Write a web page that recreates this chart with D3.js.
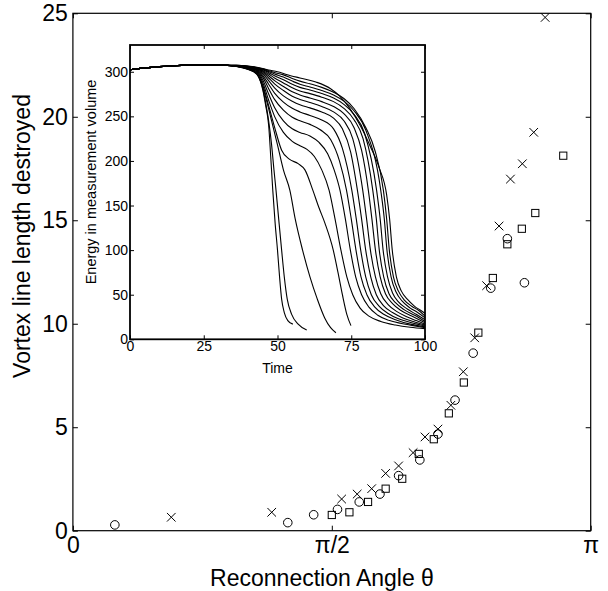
<!DOCTYPE html>
<html>
<head>
<meta charset="utf-8">
<script src="https://cdn.jsdelivr.net/npm/d3@7"></script>
<style>
  body { margin: 0; background: #fff; }
  svg { font-family: "Liberation Sans", Arial, sans-serif; }
  .tick line { stroke: #000; }
</style>
</head>
<body>
<script>
// main plot: reconnection angle (in units of pi) vs vortex line length destroyed
const circleTheta = [0.081, 0.415, 0.465, 0.511, 0.553, 0.593, 0.629, 0.670, 0.705, 0.738, 0.773, 0.807, 0.839, 0.872]
const circleLength = [0.28, 0.39, 0.77, 1.03, 1.39, 1.77, 2.66, 3.42, 4.67, 6.31, 8.58, 11.72, 14.11, 11.98]

const crossTheta = [0.190, 0.384, 0.519, 0.549, 0.577, 0.604, 0.629, 0.657, 0.680, 0.705, 0.730, 0.754, 0.776, 0.799, 0.823, 0.845, 0.868, 0.890, 0.912]
const crossLength = [0.65, 0.89, 1.53, 1.77, 2.03, 2.77, 3.13, 3.77, 4.53, 4.91, 6.06, 7.68, 9.32, 11.84, 14.72, 16.99, 17.73, 19.25, 24.8]

const squareTheta = [0.500, 0.534, 0.570, 0.604, 0.636, 0.668, 0.697, 0.726, 0.755, 0.783, 0.811, 0.839, 0.867, 0.893, 0.947]
const squareLength = [0.76, 0.89, 1.39, 2.03, 2.51, 3.71, 4.42, 5.67, 7.16, 9.57, 12.21, 13.84, 14.59, 15.35, 18.12]

const yTicks = [0, 5, 10, 15, 20, 25]
const xTicks = [0, 0.5, 1]
const xTickLabels = ["0", "\u03c0/2", "\u03c0"]

// inset: energy in measurement volume vs time, one run per curve
const insetXTicks = [0, 25, 50, 75, 100]
const insetYTicks = [0, 50, 100, 150, 200, 250, 300]

// all runs share the same start
const energyPrefix = [[0, 302.2], [5, 304.3], [10, 305.8], [15, 306.8], [20, 307.4], [25, 307.6], [30, 307.4], [33, 307.1]]

const energyRuns = [
  [[36, 306], [40, 302.5], [43, 297], [45, 280], [46, 262], [47, 240], [47.7, 205], [48.4, 167], [49.2, 130], [50, 100], [50.7, 70], [51.4, 45], [52.3, 30], [53.5, 21], [55.2, 17]],
  [[36, 306], [40, 302.8], [43, 297.5], [45, 281], [46, 265], [47, 245], [48, 218], [48.8, 190], [49.5, 167], [50.4, 135], [51.4, 100], [52.3, 70], [53.3, 45], [54.8, 28], [57, 17], [59.9, 10.4]],
  [[36, 306], [40, 303], [43, 298], [45, 283], [46.5, 265], [48, 245], [50, 218], [52, 190], [54.2, 167], [56, 135], [58.5, 100], [61, 70], [63.5, 45], [66, 24], [68, 13], [69.8, 7.4]],
  [[36, 306.2], [40, 303.3], [43, 299], [45, 285], [47, 262], [49, 238], [51.4, 212], [54, 202], [57, 197], [59.3, 190], [62, 167], [64, 148], [66.1, 130], [68.9, 100], [70.5, 75], [72, 50], [73.5, 28], [74.9, 15.3]],
  [[36, 306.3], [40, 303.6], [43, 300], [45, 288], [47, 268], [49, 250], [52, 232], [55, 222], [57.6, 217], [60, 213], [62.5, 205], [65, 190], [67.5, 167], [69.5, 135], [71.5, 100], [73.5, 70], [75.5, 50], [78, 35], [81, 26], [85, 20], [90, 16], [95, 13.5], [100, 12]],
  [[36, 306.4], [40, 303.9], [43, 300.8], [45, 291], [47, 275], [49, 260], [52, 245], [55, 236], [57.6, 232], [61, 228], [64, 221], [67, 208], [69.2, 190], [71.2, 167], [73, 135], [74.7, 100], [76.5, 70], [78.5, 50], [81, 36], [84, 27], [88, 21], [94, 16.5], [100, 13]],
  [[36, 306.5], [40, 304.2], [43, 301.5], [45, 294], [47, 281], [49, 269], [52, 257], [55, 249], [57.6, 245], [61, 241], [64.5, 235], [68, 224], [71, 200], [73.4, 167], [75, 135], [76.6, 100], [78.3, 70], [80.3, 50], [83, 36], [86, 28], [90, 22], [95, 17], [100, 14]],
  [[36, 306.6], [40, 304.5], [43, 302], [45, 296], [47, 286], [49, 276], [52, 266], [55, 259], [57.6, 255], [61, 251], [65, 246], [69, 236], [72, 214], [75.2, 167], [76.7, 135], [78.2, 100], [79.9, 70], [81.8, 50], [84.5, 37], [87.5, 29], [91, 23], [95.5, 18.5], [100, 15]],
  [[36, 306.7], [40, 304.8], [43, 302.5], [45, 298], [47, 290], [49, 282], [52, 273], [55, 267], [57.6, 263], [61, 259.5], [65, 255], [69, 248], [72, 236], [74.8, 210], [77.1, 167], [78.5, 135], [79.9, 100], [81.6, 70], [83.5, 50], [86, 37.5], [89, 30], [92.5, 24], [96, 20], [100, 16]],
  [[36, 306.8], [40, 305], [43, 303], [45, 299.5], [47, 293], [49, 286.5], [52, 279], [55, 272.5], [57.6, 269], [61, 265.5], [65, 261], [69, 255], [72.5, 245], [75.5, 225], [78.9, 167], [80.2, 135], [81.5, 100], [83.2, 70], [85, 51], [87.5, 39], [90.5, 31], [94, 25], [97, 21], [100, 17]],
  [[36, 306.9], [40, 305.3], [43, 303.5], [45, 300.5], [47, 295.5], [49, 290], [52, 283.5], [55, 277.5], [57.6, 274], [61, 270.5], [65, 266.5], [69, 261], [72.5, 253], [76, 237], [78.5, 212], [80.8, 167], [82, 135], [83.2, 100], [84.8, 70], [86.6, 51], [89, 40], [92, 32], [95.5, 26], [100, 18.5]],
  [[36, 307], [40, 305.6], [43, 304], [45, 301.5], [47, 297.5], [49, 293], [52, 287.5], [55, 282], [57.6, 278.5], [61, 275.5], [65, 271.5], [69, 266.5], [72.5, 259], [76, 246], [79, 225], [82.3, 167], [83.5, 135], [84.5, 100], [86, 70], [87.8, 51], [90, 41], [93, 33], [96.5, 27], [100, 20]],
  [[36, 307], [40, 305.8], [43, 304.3], [45, 302.3], [47, 299], [49, 295.5], [52, 291], [55, 286], [57.6, 282.5], [61, 279.5], [65, 275.5], [69, 270.5], [72.5, 263.5], [76, 252], [79.5, 231], [83.6, 167], [84.8, 135], [85.8, 100], [87.3, 70], [89, 52], [91, 42], [94, 34], [97, 28], [100, 22]],
  [[36, 307.1], [40, 306], [43, 304.5], [45, 302.8], [47, 300.2], [49, 297.5], [52, 294], [55, 289.5], [57.6, 286], [61, 283], [65, 279], [69, 274], [72.5, 267], [76, 256], [80, 234], [85, 167], [86.2, 135], [87.1, 100], [88.5, 70], [90.2, 53], [92.2, 43], [95, 35], [97.5, 30], [100, 24]],
  [[36, 307.1], [40, 306.2], [43, 304.7], [45, 303.2], [47, 301.2], [49, 299.2], [52, 296.5], [55, 292.5], [57.6, 289.5], [61, 286.5], [65, 282.5], [69, 277], [72.5, 270], [76, 258.5], [80, 237], [83, 212], [85.9, 167], [87, 135], [87.9, 100], [89.3, 70], [91, 54], [93, 44], [95.5, 37], [98, 32], [100, 26]],
  [[36, 307.2], [40, 306.4], [43, 305], [45, 303.6], [47, 302], [50, 300], [53, 297], [57.6, 293], [63, 288.5], [68, 281], [71, 273], [74.5, 259], [78, 240], [81.5, 216], [84.5, 192], [87, 162], [88, 135], [88.9, 100], [90.3, 70], [92, 54], [94, 45], [96.5, 37], [98.5, 32.5], [100, 29]]
]

const width = 608, height = 591

const svg = d3.select("body").append("svg")
  .attr("width", width)
  .attr("height", height)

// ---- main axes ----
const x = d3.scaleLinear().domain([0, 1]).range([72.9, 590.7])
const y = d3.scaleLinear().domain([0, 25]).range([530.7, 13.3])

const mainFont = 23

const gx = svg.append("g")
  .attr("transform", `translate(0,${y(0)})`)
  .call(d3.axisBottom(x).tickValues(xTicks).tickFormat((d, i) => xTickLabels[i])
    .tickSizeInner(-5).tickSizeOuter(0).tickPadding(6))
gx.select(".domain").remove()
gx.selectAll("text").attr("font-size", mainFont).attr("fill", "#000")
  .attr("font-family", "'Liberation Sans', Arial, sans-serif")

const gxTop = svg.append("g")
  .attr("transform", `translate(0,${y(25)})`)
  .call(d3.axisTop(x).tickValues(xTicks).tickFormat("").tickSizeInner(-5).tickSizeOuter(0))
gxTop.select(".domain").remove()

const gy = svg.append("g")
  .attr("transform", `translate(${x(0)},0)`)
  .call(d3.axisLeft(y).tickValues(yTicks).tickSizeInner(-5).tickSizeOuter(0).tickPadding(5))
gy.select(".domain").remove()
gy.selectAll("text").attr("font-size", mainFont).attr("fill", "#000")
  .attr("font-family", "'Liberation Sans', Arial, sans-serif")

const gyRight = svg.append("g")
  .attr("transform", `translate(${x(1)},0)`)
  .call(d3.axisRight(y).tickValues(yTicks).tickFormat("").tickSizeInner(-5).tickSizeOuter(0))
gyRight.select(".domain").remove()

svg.append("rect")
  .attr("x", x(0)).attr("y", y(25))
  .attr("width", x(1) - x(0)).attr("height", y(0) - y(25))
  .attr("fill", "none").attr("stroke", "#000").attr("stroke-width", 1.2)

// axis titles
svg.append("text")
  .attr("x", 322).attr("y", 586)
  .attr("text-anchor", "middle").attr("font-size", 23)
  .text("Reconnection Angle \u03b8")

svg.append("text")
  .attr("transform", `translate(30,236) rotate(-90)`)
  .attr("text-anchor", "middle").attr("font-size", 23)
  .text("Vortex line length destroyed")

// ---- scatter markers ----
const marks = svg.append("g").attr("fill", "none").attr("stroke", "#000").attr("stroke-width", 1)

marks.selectAll("circle")
  .data(d3.zip(circleTheta, circleLength))
  .join("circle")
    .attr("cx", d => x(d[0])).attr("cy", d => y(d[1]))
    .attr("r", 4.3)

marks.selectAll("rect")
  .data(d3.zip(squareTheta, squareLength))
  .join("rect")
    .attr("x", d => x(d[0]) - 3.6).attr("y", d => y(d[1]) - 3.6)
    .attr("width", 7.2).attr("height", 7.2)

marks.selectAll("path")
  .data(d3.zip(crossTheta, crossLength))
  .join("path")
    .attr("d", d => {
      const cx = x(d[0]), cy = y(d[1]), s = 4.3
      return `M${cx - s},${cy - s}L${cx + s},${cy + s}M${cx - s},${cy + s}L${cx + s},${cy - s}`
    })

// ---- inset ----
const ix = d3.scaleLinear().domain([0, 100]).range([130, 425])
const iy = d3.scaleLinear().domain([0, 330]).range([339.3, 45])
const insetFont = 14

svg.append("rect")
  .attr("x", ix(0)).attr("y", iy(330))
  .attr("width", ix(100) - ix(0)).attr("height", iy(0) - iy(330))
  .attr("fill", "#fff")

const line = d3.line()
  .x(d => ix(d[0]))
  .y(d => iy(d[1]))
  .curve(d3.curveMonotoneX)

svg.append("g")
  .selectAll("path")
  .data(energyRuns.map(r => energyPrefix.concat(r)))
  .join("path")
    .attr("d", line)
    .attr("fill", "none")
    .attr("stroke", "#000")
    .attr("stroke-width", 1.1)

const igx = svg.append("g")
  .attr("transform", `translate(0,${iy(0)})`)
  .call(d3.axisBottom(ix).tickValues(insetXTicks).tickSizeInner(-4).tickSizeOuter(0).tickPadding(2))
igx.select(".domain").remove()
igx.selectAll("text").attr("font-size", insetFont).attr("fill", "#000")
  .attr("font-family", "'Liberation Sans', Arial, sans-serif")

const igxTop = svg.append("g")
  .attr("transform", `translate(0,${iy(330)})`)
  .call(d3.axisTop(ix).tickValues(insetXTicks).tickFormat("").tickSizeInner(-4).tickSizeOuter(0))
igxTop.select(".domain").remove()

const igy = svg.append("g")
  .attr("transform", `translate(${ix(0)},0)`)
  .call(d3.axisLeft(iy).tickValues(insetYTicks).tickSizeInner(-4).tickSizeOuter(0).tickPadding(2))
igy.select(".domain").remove()
igy.selectAll("text").attr("font-size", insetFont).attr("fill", "#000")
  .attr("font-family", "'Liberation Sans', Arial, sans-serif")

const igyRight = svg.append("g")
  .attr("transform", `translate(${ix(100)},0)`)
  .call(d3.axisRight(iy).tickValues(insetYTicks).tickFormat("").tickSizeInner(-4).tickSizeOuter(0))
igyRight.select(".domain").remove()

svg.append("rect")
  .attr("x", ix(0)).attr("y", iy(330))
  .attr("width", ix(100) - ix(0)).attr("height", iy(0) - iy(330))
  .attr("fill", "none").attr("stroke", "#000").attr("stroke-width", 1.8)

svg.append("text")
  .attr("x", ix(50)).attr("y", 373)
  .attr("text-anchor", "middle").attr("font-size", insetFont)
  .text("Time")

svg.append("text")
  .attr("transform", `translate(96,182) rotate(-90)`)
  .attr("text-anchor", "middle").attr("font-size", 14.5)
  .text("Energy in measurement volume")
</script>
</body>
</html>
